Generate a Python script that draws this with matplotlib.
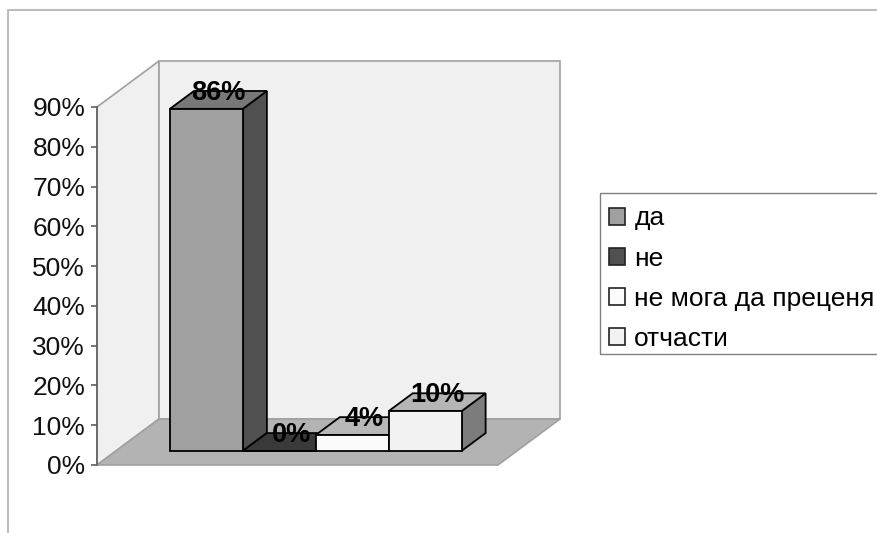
import matplotlib
matplotlib.use('Agg')
import matplotlib.pyplot as plt
from matplotlib.patches import Patch, Rectangle
from matplotlib.lines import Line2D

plt.rcParams['font.family'] = ['Liberation Sans', 'DejaVu Sans']

W, H = 877, 533

categories = ['да', 'не', 'не мога да преценя', 'отчасти']
values = [86, 0, 4, 10]
y_ticks = [0, 10, 20, 30, 40, 50, 60, 70, 80, 90]

front_colors = ['#a0a0a0', '#505050', '#fbfbfb', '#f2f2f2']
top_colors = ['#787878', '#3a3a3a', '#b8b8b8', '#b5b5b5']
side_colors = ['#505050', '#282828', '#7c7c7c', '#7c7c7c']

# oblique projection: how far one full unit of depth shifts a point
DEPTH_X = 62 / (401 / 5.5)
DEPTH_Y = 46 / (358 / 90)
BAR_NEAR, BAR_FAR = 0.306, 0.694


def project(x, y, d):
    return x + d * DEPTH_X, y + d * DEPTH_Y


def face(ax, corners, color, edge, lw, z):
    pts = [project(*c) for c in corners]
    ax.fill([p[0] for p in pts], [p[1] for p in pts], facecolor=color,
            edgecolor=edge, linewidth=lw, zorder=z, clip_on=False, joinstyle='miter')


fig = plt.figure(figsize=(W / 100, H / 100), dpi=100)
ax = fig.add_axes([97 / W, 1 - 465 / H, 401 / W, 358 / H])
ax.set_xlim(0, 5.5)
ax.set_ylim(0, 90)
ax.patch.set_visible(False)

# outer chart frame, only the top and left edges are in view
fig.add_artist(Line2D([8 / W, 8 / W, 1], [0, 1 - 10 / H, 1 - 10 / H], color='#bcbcbc', lw=1.5))

# walls and floor
wall_edge = '#a0a0a0'
face(ax, [(0, 0, 0), (0, 90, 0), (0, 90, 1), (0, 0, 1)], '#f0f0f0', wall_edge, 1.2, 1)
face(ax, [(0, 0, 1), (0, 90, 1), (5.5, 90, 1), (5.5, 0, 1)], '#f0f0f0', wall_edge, 1.2, 1)
face(ax, [(0, 0, 0), (5.5, 0, 0), (5.5, 0, 1), (0, 0, 1)], '#b3b3b3', wall_edge, 1.2, 2)

# bars sit side by side with a 150% gap shared between both ends
for i, v in enumerate(values):
    x0 = 0.74 + i
    x1 = x0 + 1
    z = 3 + i
    face(ax, [(x1, 0, BAR_NEAR), (x1, v, BAR_NEAR), (x1, v, BAR_FAR), (x1, 0, BAR_FAR)],
         side_colors[i], 'black', 1.3, z)
    face(ax, [(x0, v, BAR_NEAR), (x1, v, BAR_NEAR), (x1, v, BAR_FAR), (x0, v, BAR_FAR)],
         top_colors[i], 'black', 1.3, z)
    face(ax, [(x0, 0, BAR_NEAR), (x1, 0, BAR_NEAR), (x1, v, BAR_NEAR), (x0, v, BAR_NEAR)],
         front_colors[i], 'black', 1.3, z)

    # value label above the middle of the top face
    tx, ty = project((x0 + x1) / 2, v, (BAR_NEAR + BAR_FAR) / 2)
    ax.annotate(f'{v}%', (tx, ty), xytext=(0, 5), textcoords='offset points',
                ha='center', va='center', fontsize=19.5, fontweight='bold',
                color='black', zorder=20, annotation_clip=False)

# axis
for name in ['top', 'right', 'bottom']:
    ax.spines[name].set_visible(False)
ax.spines['left'].set_color('#606060')
ax.spines['left'].set_linewidth(1.2)
ax.spines['left'].set_zorder(10)
ax.set_xticks([])
ax.set_yticks(y_ticks)
ax.set_yticklabels([f'{t}%' for t in y_ticks], fontsize=19, color='#111111')
ax.tick_params(axis='y', length=4.5, width=1.2, color='#606060', pad=4)

# legend box runs past the right side of the image
fig.add_artist(Rectangle((600 / W, 1 - 354 / H), 300 / W, 161 / H, facecolor='white',
                         edgecolor='#808080', linewidth=1.0, transform=fig.transFigure))
handles = [Patch(facecolor=c, edgecolor='#222222', linewidth=1.2) for c in front_colors]
fig.legend(handles, categories, loc='upper left', bbox_to_anchor=(609 / W, 1 - 206.5 / H),
           fontsize=19, frameon=False, handlelength=0.6, handleheight=0.62,
           handletextpad=0.36, labelspacing=0.61, borderpad=0, borderaxespad=0)

fig.savefig('out.png', dpi=100)
